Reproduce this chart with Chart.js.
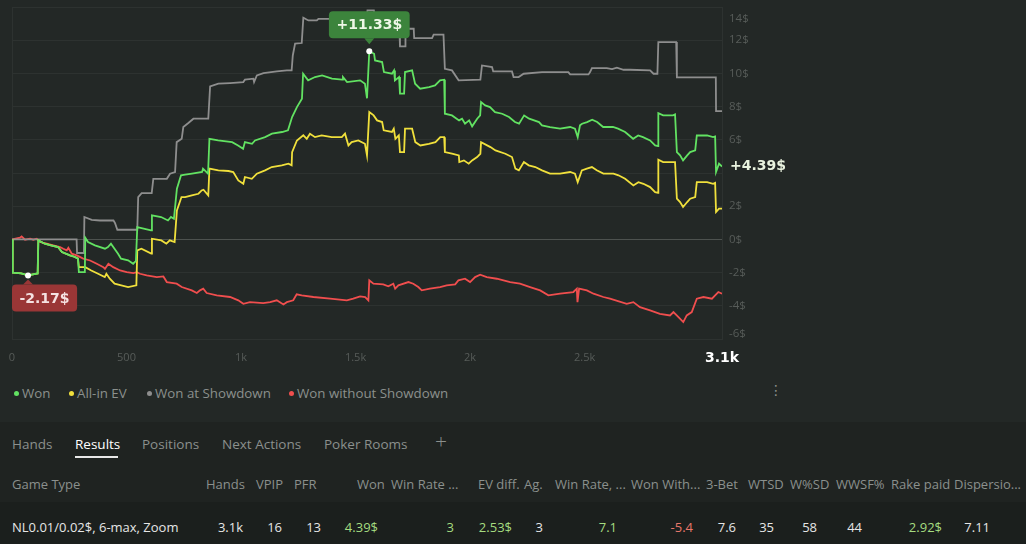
<!DOCTYPE html>
<html>
<head>
<meta charset="utf-8">
<script src="https://cdn.jsdelivr.net/npm/chart.js@4.4.1/dist/chart.umd.min.js"></script>
<style>
    html, body { margin: 0; padding: 0; }
    body {
        width: 1026px; height: 544px; overflow: hidden; position: relative;
        background: #232826; font-family: "Open Sans", "Noto Sans", sans-serif; font-size: 13px;
    }
    #chartBox { position: absolute; left: 0; top: 0; width: 1026px; height: 372px; }
    .abs { position: absolute; white-space: nowrap; line-height: 18px; }
    .legend { top: 384px; color: #8b908d; font-size: 13.3px; }
    .dot { position: absolute; width: 5px; height: 5px; border-radius: 50%; top: 6.5px; left: -8px; }
    #menu { left: 769px; top: 381px; color: #8b908d; font-family: "DejaVu Sans"; font-size: 14px; }
    #lower { position: absolute; left: 0; top: 422px; width: 1026px; height: 122px; background: #1f2321; }
    #row { position: absolute; left: 0; top: 502px; width: 1026px; height: 42px; background: #1b1f1d; }
    .tab { top: 435px; color: #8b908d; font-size: 13.5px; }
    .tab.on { color: #ffffff; }
    #underline { position: absolute; left: 75px; top: 456px; width: 43px; height: 2px; background: #e8e8e8; }
    .hd { top: 475px; color: #8b908d; }
    .cell { top: 518px; color: #e6e6e6; text-align: right; }
    .g { color: #a5dc80; }
    .r { color: #e8776a; }
</style>
</head>
<body>
<div id="chartBox"><canvas id="resultsChart"></canvas></div>

<div class="abs legend" style="left:22px"><span class="dot" style="background:#62e262"></span>Won</div>
<div class="abs legend" style="left:77px"><span class="dot" style="background:#f0e03c"></span>All-in EV</div>
<div class="abs legend" style="left:155px"><span class="dot" style="background:#8e8e8e"></span>Won at Showdown</div>
<div class="abs legend" style="left:297px"><span class="dot" style="background:#f04e4e"></span>Won without Showdown</div>
<div class="abs" id="menu">⋮</div>

<div id="lower"></div>
<div id="row"></div>

<div class="abs tab" style="left:12px">Hands</div>
<div class="abs tab on" style="left:75px">Results</div>
<div id="underline"></div>
<div class="abs tab" style="left:142px">Positions</div>
<div class="abs tab" style="left:222px">Next Actions</div>
<div class="abs tab" style="left:324px">Poker Rooms</div>
<div class="abs tab" style="left:435px; top:432px; font-size:21px; font-weight:300">+</div>

<div class="abs hd" style="left:12px">Game Type</div>
<div class="abs hd" style="left:206px">Hands</div>
<div class="abs hd" style="left:256px">VPIP</div>
<div class="abs hd" style="left:294px">PFR</div>
<div class="abs hd" style="left:357px">Won</div>
<div class="abs hd" style="left:391px">Win Rate ...</div>
<div class="abs hd" style="left:478px">EV diff.</div>
<div class="abs hd" style="left:524px">Ag.</div>
<div class="abs hd" style="left:555px">Win Rate, ...</div>
<div class="abs hd" style="left:631px">Won With...</div>
<div class="abs hd" style="left:706px">3-Bet</div>
<div class="abs hd" style="left:748px">WTSD</div>
<div class="abs hd" style="left:790px">W%SD</div>
<div class="abs hd" style="left:836px">WWSF%</div>
<div class="abs hd" style="left:891px">Rake paid</div>
<div class="abs hd" style="left:954px">Dispersio...</div>

<div class="abs cell" style="left:12px; text-align:left">NL0.01/0.02$, 6-max, Zoom</div>
<div class="abs cell" style="right:783px">3.1k</div>
<div class="abs cell" style="right:744px">16</div>
<div class="abs cell" style="right:705px">13</div>
<div class="abs cell g" style="right:648px">4.39$</div>
<div class="abs cell g" style="right:572px">3</div>
<div class="abs cell g" style="right:514px">2.53$</div>
<div class="abs cell" style="right:483px">3</div>
<div class="abs cell g" style="right:409px">7.1</div>
<div class="abs cell r" style="right:333px">-5.4</div>
<div class="abs cell" style="right:290px">7.6</div>
<div class="abs cell" style="right:252px">35</div>
<div class="abs cell" style="right:209px">58</div>
<div class="abs cell" style="right:164px">44</div>
<div class="abs cell g" style="right:84px">2.92$</div>
<div class="abs cell" style="right:36px">7.11</div>

<script>
// Results graph - cumulative winnings by hands played

// x axis ticks
const xTicks = [0, 500, 1000, 1500, 2000, 2500, 3100];
const xTickLabels = ['0', '500', '1k', '1.5k', '2k', '2.5k', '3.1k'];
const yTicks = [-6, -4, -2, 0, 2, 4, 6, 8, 10, 12, 14];

// Won
const wonHands = [0,3,40,70,112,115,143,170,201,218,253,275,288,292,318,320,332,362,406,419,
    432,463,476,507,529,541,547,607,611,651,681,694,707,720,738,756,786,830,834,856,
    862,900,961,987,1009,1017,1048,1061,1105,1135,1179,1205,1223,1244,1266,1271,1293,1323,1354,1397,
    1441,1445,1463,1520,1541,1550,1560,1581,1585,1616,1624,1659,1668,1672,1690,1694,1712,1716,1747,1760,
    1782,1821,1847,1869,1887,1890,1921,1952,1965,1978,1996,2009,2031,2044,2048,2066,2087,2109,2140,2170,
    2196,2214,2236,2258,2301,2314,2349,2393,2437,2458,2470,2480,2489,2511,2533,2555,2581,2624,2646,2677,
    2712,2734,2755,2786,2808,2821,2822,2843,2886,2895,2903,2917,2930,2948,2961,2983,2990,3035,3061,3070,
    3074,3087,3100];
const wonValues = [0,-2.0,-2.05,-2.17,-2.05,-0.06,-0.26,-0.36,-0.46,-0.76,-0.96,-1.06,-1.16,-1.97,-1.97,0.1,-0.16,-0.36,-0.56,-0.46,
    -0.26,-0.86,-1.16,-1.26,-1.47,-1.3,0.74,0.54,1.45,1.35,1.14,1.35,1.24,3.05,3.86,3.9,3.96,4.06,4.26,3.96,
    6.06,5.96,5.86,5.66,5.46,5.86,5.76,5.96,6.16,6.37,6.47,6.57,7.37,7.97,8.47,9.98,9.58,9.78,9.88,9.68,
    9.62,9.78,9.48,9.58,9.38,8.5,11.33,11.18,10.78,10.68,10.08,9.98,10.18,9.58,9.78,8.78,8.78,10.08,10.18,9.38,
    9.08,9.18,9.28,9.58,9.62,7.57,7.47,7.17,7.27,6.97,7.17,6.81,7.27,7.47,8.27,8.07,7.97,7.67,7.57,7.37,
    7.07,6.97,7.47,7.27,7.07,6.87,6.77,6.67,6.77,6.67,6.16,6.87,6.97,7.07,7.21,7.07,6.77,6.77,6.67,6.47,
    6.06,6.26,6.16,5.96,5.66,5.62,7.61,7.47,7.47,7.53,5.26,5.06,4.76,5.06,5.26,5.36,6.26,6.26,6.16,6.2,
    4.06,4.56,4.39];

// All-in EV
const evHands = [0,3,40,70,112,115,143,170,201,218,253,275,288,292,320,346,376,405,412,427,
    448,477,507,543,547,565,608,611,652,674,689,710,720,740,756,785,814,828,836,857,
    862,901,945,966,988,1010,1017,1047,1069,1105,1134,1178,1207,1221,1223,1244,1272,1287,1301,1323,
    1352,1396,1440,1454,1469,1483,1512,1541,1550,1560,1579,1594,1616,1623,1659,1667,1674,1689,1694,1712,
    1716,1747,1761,1783,1820,1849,1870,1887,1890,1921,1951,1953,1973,1994,2009,2031,2045,2048,2089,2111,
    2154,2183,2198,2213,2235,2256,2285,2314,2349,2393,2437,2458,2470,2488,2510,2532,2553,2582,2626,2648,
    2677,2713,2735,2757,2786,2808,2821,2822,2843,2895,2903,2917,2930,2948,2961,2983,2990,3035,3061,3070,
    3074,3087,3100];
const evValues = [0,-2.0,-2.05,-2.17,-2.05,-0.06,-0.26,-0.36,-0.46,-0.76,-0.96,-1.06,-1.16,-1.67,-1.67,-1.87,-2.07,-2.27,-2.07,-2.37,
    -2.67,-2.77,-2.87,-2.77,-0.66,-0.56,-0.86,0.04,-0.06,-0.26,-0.06,-0.16,1.75,2.55,2.55,2.65,2.75,2.95,2.99,2.65,
    4.26,4.16,4.12,4.06,3.55,3.35,3.76,3.65,3.96,4.16,4.36,4.46,4.56,4.46,5.26,5.96,6.27,6.06,6.37,6.16,
    6.27,6.16,6.16,6.37,5.66,5.86,5.96,5.76,5.06,7.67,7.47,7.17,7.07,6.57,6.47,6.67,6.06,6.27,5.26,5.26,
    6.67,6.67,5.86,5.66,5.76,5.86,6.16,6.16,5.26,5.16,5.06,4.66,4.76,4.56,4.76,4.96,5.16,5.86,5.56,5.36,
    5.16,4.96,4.26,4.16,4.66,4.46,4.36,4.16,3.96,3.96,4.06,3.96,3.45,4.16,4.26,4.36,4.16,3.96,3.96,3.86,
    3.65,3.25,3.45,3.35,3.15,2.85,2.81,4.8,4.66,4.66,2.45,2.25,1.95,2.25,2.45,2.55,3.45,3.45,3.35,3.41,
    1.65,1.85,1.85];

// Won at Showdown
const sdHands = [0,282,284,314,316,348,384,443,450,460,547,551,566,610,617,676,690,712,719,741,
    748,770,792,857,865,901,952,1010,1017,1054,1057,1069,1098,1156,1200,1221,1226,1236,1265,1272,
    1294,1331,1338,1440,1548,1552,1580,1585,1690,1694,1716,1718,1754,1756,1834,1841,1884,1890,1921,1950,
    2045,2052,2096,2101,2183,2190,2212,2234,2314,2429,2437,2517,2524,2532,2597,2620,2641,2670,2699,2786,
    2801,2818,2822,2900,2903,3073,3074,3100];
const sdValues = [0,0,-0.82,-0.82,1.35,1.18,1.14,1.14,0.98,0.58,0.58,2.55,2.79,2.79,3.65,3.65,3.96,4.06,5.86,6.06,
    6.77,7.01,7.27,7.27,9.22,9.38,9.42,9.48,9.62,9.68,9.48,9.88,10.02,10.12,10.18,10.18,11.08,11.79,11.83,13.35,
    13.19,13.19,13.29,13.29,13.29,13.8,13.8,13.2,13.2,11.63,11.63,12.69,12.69,12.12,12.12,12.33,12.33,10.28,10.18,9.58,
    9.62,10.48,10.38,10.12,10.12,9.78,9.78,9.98,10.08,10.08,9.94,9.94,10.08,10.32,10.32,10.26,10.34,10.22,10.22,10.18,
    9.98,9.98,11.89,11.89,9.76,9.76,7.73,7.73];

// Won without Showdown
const nsdHands = [0,35,42,57,79,93,108,122,152,180,210,224,239,246,261,283,311,341,370,399,
    406,421,442,472,501,530,545,559,588,632,661,676,719,741,785,807,821,835,850,894,
    952,988,1010,1039,1097,1127,1156,1185,1200,1228,1243,1265,1316,1389,1462,1490,1520,1542,1556,1560,
    1578,1621,1643,1665,1673,1687,1731,1752,1774,1789,1825,1869,1898,1935,1949,1978,2000,2022,2044,2073,
    2117,2175,2218,2240,2262,2306,2342,2393,2451,2466,2469,2476,2510,2539,2582,2611,2684,2713,2742,2786,
    2829,2873,2888,2910,2931,2946,2968,2990,3019,3056,3070,3084,3100];
const nsdValues = [0,0.1,0.18,-0.02,0.04,-0.02,0.04,-0.16,-0.26,-0.36,-0.46,-0.56,-0.66,-0.5,-0.86,-0.96,-1.16,-1.27,-1.47,-1.67,
    -1.77,-1.47,-1.67,-1.87,-1.97,-2.03,-1.97,-2.07,-2.17,-2.27,-2.23,-2.57,-2.67,-2.87,-3.07,-3.23,-3.07,-2.97,-3.23,-3.37,
    -3.47,-3.67,-3.88,-3.78,-3.84,-3.78,-3.67,-3.92,-3.78,-3.67,-3.31,-3.37,-3.47,-3.57,-3.67,-3.57,-3.43,-3.47,-3.67,-2.47,
    -2.67,-2.71,-2.83,-2.67,-2.97,-2.77,-2.57,-2.67,-2.87,-3.07,-2.97,-2.87,-2.77,-2.71,-2.47,-2.37,-2.57,-2.27,-2.13,-2.27,
    -2.37,-2.57,-2.67,-2.77,-2.87,-3.07,-3.37,-3.27,-3.17,-2.97,-3.78,-2.97,-3.07,-3.27,-3.47,-3.57,-3.88,-3.78,-4.08,-4.28,
    -4.48,-4.58,-4.38,-4.68,-4.98,-4.58,-4.38,-3.57,-3.47,-3.57,-3.37,-3.17,-3.27];

function toPoints(hands, values) {
    return hands.map(function(h, i) { return { x: h, y: values[i] }; });
}

const gridColor = '#2d3230';

// Extra drawing: left border, y labels, max/min markers, final value
const decorPlugin = {
    id: 'decor',
    beforeDatasetsDraw(chart) {
        const ctx = chart.ctx;
        const area = chart.chartArea;
        ctx.save();
        ctx.strokeStyle = gridColor;
        ctx.lineWidth = 1;
        ctx.beginPath();
        ctx.moveTo(Math.round(area.left) + 0.5, area.top);
        ctx.lineTo(Math.round(area.left) + 0.5, area.bottom);
        ctx.stroke();
        ctx.restore();
    },
    afterDatasetsDraw(chart) {
        const ctx = chart.ctx;
        const area = chart.chartArea;
        const yScale = chart.scales.y;
        const meta = chart.getDatasetMeta(0);
        const last = meta.data[meta.data.length - 1];
        ctx.save();

        // y axis labels (kept inside the plot height, hidden next to the final value)
        ctx.font = '11.5px "Open Sans"';
        ctx.fillStyle = '#575c59';
        ctx.textAlign = 'left';
        ctx.textBaseline = 'middle';
        yTicks.forEach(function(v) {
            let py = yScale.getPixelForValue(v);
            if (Math.abs(py - last.y) < 14) return;
            py = Math.min(Math.max(py, area.top + 12), area.bottom - 5);
            ctx.fillText(v + '$', area.right + 7, py);
        });

        // max and min of "Won"
        let maxI = 0, minI = 0;
        wonValues.forEach(function(v, i) {
            if (v > wonValues[maxI]) maxI = i;
            if (v < wonValues[minI]) minI = i;
        });
        drawMarker(ctx, area, meta.data[maxI], '+' + wonValues[maxI].toFixed(2) + '$', '#3c843c', '#eef7e6', true);
        drawMarker(ctx, area, meta.data[minI], wonValues[minI].toFixed(2) + '$', '#9a3636', '#f5e2e2', false);

        // final value
        ctx.font = 'bold 14px "DejaVu Sans"';
        ctx.fillStyle = '#e9f3df';
        ctx.textAlign = 'left';
        ctx.textBaseline = 'middle';
        const lastVal = wonValues[wonValues.length - 1];
        ctx.fillText((lastVal >= 0 ? '+' : '') + lastVal.toFixed(2) + '$', area.right + 8, last.y);
        ctx.restore();
    }
};

function drawMarker(ctx, area, pt, text, bg, fg, above) {
    ctx.font = 'bold 14px "DejaVu Sans"';
    const w = ctx.measureText(text).width + 15;
    const h = 27;
    let left = pt.x - w / 2;
    left = Math.max(area.left, Math.min(left, area.right - w));
    const top = above ? pt.y - 40 : pt.y + 9;

    ctx.fillStyle = bg;
    ctx.beginPath();
    ctx.roundRect(left, top, w, h, 4);
    ctx.fill();
    ctx.beginPath();
    if (above) {
        ctx.moveTo(pt.x - 5, top + h);
        ctx.lineTo(pt.x + 5, top + h);
        ctx.lineTo(pt.x, top + h + 6);
    } else {
        ctx.moveTo(pt.x - 5, top);
        ctx.lineTo(pt.x + 5, top);
        ctx.lineTo(pt.x, top - 5);
    }
    ctx.closePath();
    ctx.fill();

    ctx.fillStyle = fg;
    ctx.textAlign = 'center';
    ctx.textBaseline = 'middle';
    ctx.fillText(text, left + w / 2, top + h / 2 + 1);

    ctx.fillStyle = '#ffffff';
    ctx.beginPath();
    ctx.arc(pt.x, pt.y, 3, 0, Math.PI * 2);
    ctx.fill();
}

document.addEventListener('DOMContentLoaded', function() {
    const ctx = document.getElementById('resultsChart');

    const lineStyle = { borderWidth: 1.8, pointRadius: 0, tension: 0, fill: false };

    new Chart(ctx, {
        type: 'line',
        data: {
            datasets: [
                Object.assign({ label: 'Won', data: toPoints(wonHands, wonValues), borderColor: '#62e262' }, lineStyle),
                Object.assign({ label: 'All-in EV', data: toPoints(evHands, evValues), borderColor: '#f0e03c' }, lineStyle),
                Object.assign({ label: 'Won at Showdown', data: toPoints(sdHands, sdValues), borderColor: '#8e8e8e' }, lineStyle),
                Object.assign({ label: 'Won without Showdown', data: toPoints(nsdHands, nsdValues), borderColor: '#f04e4e' }, lineStyle)
            ]
        },
        options: {
            responsive: true,
            maintainAspectRatio: false,
            animation: false,
            events: [],
            layout: { padding: { left: 12, top: 7, right: 0, bottom: 0 } },
            plugins: {
                legend: { display: false },
                tooltip: { enabled: false }
            },
            scales: {
                x: {
                    type: 'linear',
                    min: 0,
                    max: 3100,
                    grid: { display: false, drawTicks: false },
                    border: { display: false },
                    afterBuildTicks: function(axis) {
                        axis.ticks = xTicks.map(function(v) { return { value: v }; });
                    },
                    afterFit: function(axis) {
                        axis.height = 33;
                        axis.paddingLeft = 0;
                        axis.paddingRight = 0;
                    },
                    ticks: {
                        autoSkip: false,
                        maxRotation: 0,
                        padding: 12,
                        callback: function(value, index) { return xTickLabels[index]; },
                        color: function(c) { return c.index === xTicks.length - 1 ? '#ffffff' : '#575c59'; },
                        font: function(c) {
                            return c.index === xTicks.length - 1
                                ? { family: 'DejaVu Sans', size: 14, weight: 'bold', lineHeight: 1 }
                                : { family: 'Open Sans', size: 11 };
                        }
                    }
                },
                y: {
                    position: 'right',
                    min: -6,
                    max: 14,
                    afterFit: function(axis) { axis.width = 304; },
                    ticks: { stepSize: 2, display: false },
                    grid: {
                        drawTicks: false,
                        color: function(c) { return c.tick && c.tick.value === 0 ? '#4d524f' : gridColor; }
                    },
                    border: { display: true, color: gridColor }
                }
            }
        },
        plugins: [decorPlugin]
    });
});
</script>
</body>
</html>
